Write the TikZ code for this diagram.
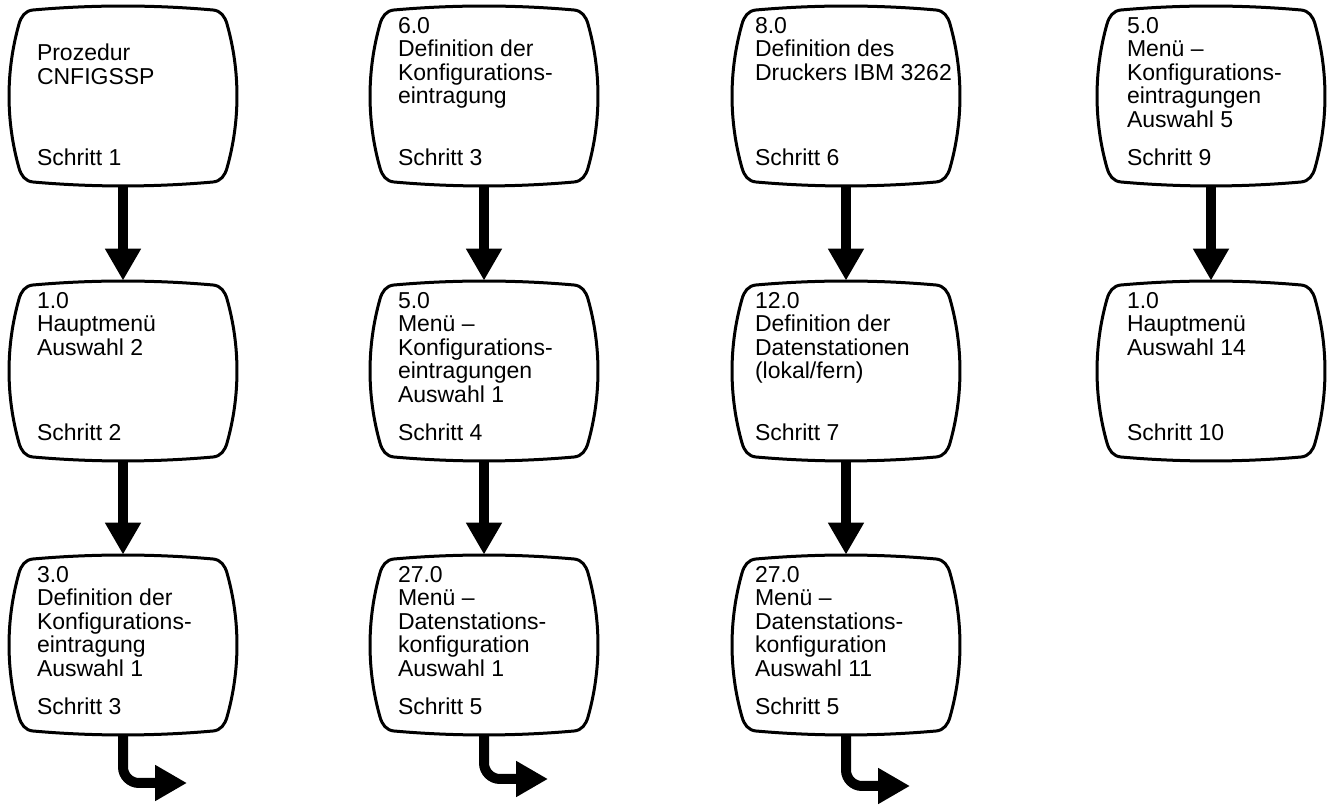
\documentclass[tikz,border=0pt]{standalone}
\usepackage{fontspec}
\setmainfont{Liberation Sans}
\usetikzlibrary{positioning}
\usetikzlibrary{arrows.meta}

\tikzset{
	screen/.style={minimum width=114pt,minimum height=90pt,inner sep=0pt},
	frame/.style={line width=1.5pt,line join=round},
	info/.style={inner sep=0pt,align=left,font=\fontsize{11.5}{11.8}\selectfont},
	flow/.style={line width=5pt,-{Triangle[width=17pt,length=16pt]}}
}

% bulged screen outline round a box node
\newcommand{\tvframe}[1]{%
	\draw[frame,shift={(#1.center)}] (-90,86) .. controls (-30,91.3) and (30,91.3) .. (90,86)
		.. controls (97.7,85.3) and (101.8,79.7) .. (104,72)
		.. controls (117.3,25) and (117.3,-25) .. (104,-72)
		.. controls (101.8,-79.7) and (97.7,-85.3) .. (90,-86)
		.. controls (30,-91.3) and (-30,-91.3) .. (-90,-86)
		.. controls (-97.7,-85.3) and (-101.8,-79.7) .. (-104,-72)
		.. controls (-117.3,-25) and (-117.3,25) .. (-104,72)
		.. controls (-101.8,79.7) and (-97.7,85.3) .. (-90,86) -- cycle;
}

\begin{document}
\begin{tikzpicture}[x=0.5pt,y=0.5pt]
	\useasboundingbox (0,0) rectangle (1329,-806);

	\node[screen](a1) at (123,-96) {};
	\node[screen](a2) at (123,-371) {};
	\node[screen](a3) at (123,-645) {};
	\node[screen](b1) at (484,-96) {};
	\node[screen](b2) at (484,-371) {};
	\node[screen](b3) at (484,-645) {};
	\node[screen](c1) at (846,-96) {};
	\node[screen](c2) at (846,-371) {};
	\node[screen](c3) at (846,-645) {};
	\node[screen](d1) at (1211,-96) {};
	\node[screen](d2) at (1211,-371) {};

	\foreach \n in {a1,a2,a3,b1,b2,b3,c1,c2,c3,d1,d2}
		\tvframe{\n};

	% screen texts
	\node[info,below right=19pt and 14pt of a1.north west](a1t) {Prozedur\\CNFIGSSP};
	\node[info,above right=10pt and 14pt of a1.south west](a1s) {Schritt 1};
	\node[info,below right=5.5pt and 14pt of a2.north west](a2t) {1.0\\Hauptmenü\\Auswahl 2};
	\node[info,above right=10pt and 14pt of a2.south west](a2s) {Schritt 2};
	\node[info,below right=5.5pt and 14pt of a3.north west](a3t) {3.0\\Definition der\\Konfigurations-\\eintragung\\Auswahl 1};
	\node[info,above right=10pt and 14pt of a3.south west](a3s) {Schritt 3};

	\node[info,below right=5.5pt and 14pt of b1.north west](b1t) {6.0\\Definition der\\Konfigurations-\\eintragung};
	\node[info,above right=10pt and 14pt of b1.south west](b1s) {Schritt 3};
	\node[info,below right=5.5pt and 14pt of b2.north west](b2t) {5.0\\Menü –\\Konfigurations-\\eintragungen\\Auswahl 1};
	\node[info,above right=10pt and 14pt of b2.south west](b2s) {Schritt 4};
	\node[info,below right=5.5pt and 14pt of b3.north west](b3t) {27.0\\Menü –\\Datenstations-\\konfiguration\\Auswahl 1};
	\node[info,above right=10pt and 14pt of b3.south west](b3s) {Schritt 5};

	\node[info,below right=5.5pt and 11.5pt of c1.north west](c1t) {8.0\\Definition des\\Druckers IBM 3262};
	\node[info,above right=10pt and 11.5pt of c1.south west](c1s) {Schritt 6};
	\node[info,below right=5.5pt and 11.5pt of c2.north west](c2t) {12.0\\Definition der\\Datenstationen\\(lokal/fern)};
	\node[info,above right=10pt and 11.5pt of c2.south west](c2s) {Schritt 7};
	\node[info,below right=5.5pt and 11.5pt of c3.north west](c3t) {27.0\\Menü –\\Datenstations-\\konfiguration\\Auswahl 11};
	\node[info,above right=10pt and 11.5pt of c3.south west](c3s) {Schritt 5};

	\node[info,below right=5.5pt and 15pt of d1.north west](d1t) {5.0\\Menü –\\Konfigurations-\\eintragungen\\Auswahl 5};
	\node[info,above right=10pt and 15pt of d1.south west](d1s) {Schritt 9};
	\node[info,below right=5.5pt and 15pt of d2.north west](d2t) {1.0\\Hauptmenü\\Auswahl 14};
	\node[info,above right=10pt and 15pt of d2.south west](d2s) {Schritt 10};

	% flow arrows
	\draw[flow] (a1) -- (a2);
	\draw[flow] (a2) -- (a3);
	\draw[flow] (b1) -- (b2);
	\draw[flow] (b2) -- (b3);
	\draw[flow] (c1) -- (c2);
	\draw[flow] (c2) -- (c3);
	\draw[flow] (d1) -- (d2);

	\coordinate (a3x) at (187,-783);
	\coordinate (b3x) at (548,-779);
	\coordinate (c3x) at (910,-786);
	\draw[flow,rounded corners=8pt] (a3) |- (a3x);
	\draw[flow,rounded corners=8pt] (b3) |- (b3x);
	\draw[flow,rounded corners=8pt] (c3) |- (c3x);
\end{tikzpicture}
\end{document}
